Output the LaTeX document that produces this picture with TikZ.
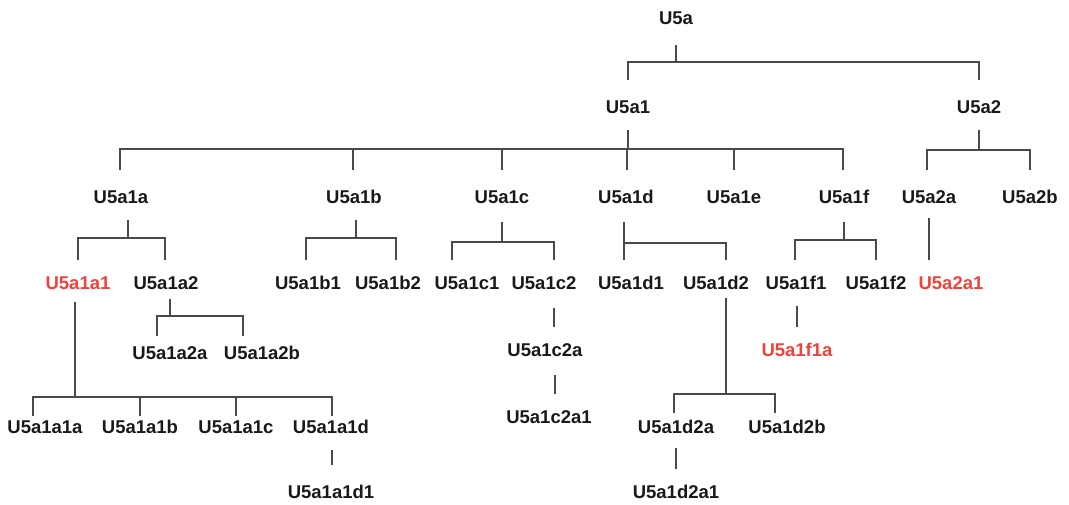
\documentclass[tikz,border=0pt]{standalone}
\usepackage{fontspec}
\setmainfont{Liberation Sans}
\definecolor{linegray}{HTML}{4A4A4A}
\definecolor{hapred}{HTML}{E8453C}
\tikzset{
  lbl/.style={font=\fontsize{18.5}{20}\selectfont\bfseries, text=black!90,
    text height=13pt, text depth=0pt, inner sep=0pt, outer ysep=16.5pt},
  redlbl/.style={lbl, text=hapred},
  link/.style={draw=linegray, line width=1.3pt},
}
\begin{document}
\begin{tikzpicture}[x=1pt,y=-1pt]
   \useasboundingbox (0,0) rectangle (1069,504);

   % ノード
   \node[lbl] (u5a) at (676,18) {U5a};
   \node[lbl] (u5a1) at (628,107) {U5a1};
   \node[lbl] (u5a2) at (979,107) {U5a2};

   \node[lbl] (u5a1a) at (121,197) {U5a1a};
   \node[lbl] (u5a1b) at (354,197) {U5a1b};
   \node[lbl] (u5a1c) at (502,197) {U5a1c};
   \node[lbl] (u5a1d) at (626,197) {U5a1d};
   \node[lbl] (u5a1e) at (734,197) {U5a1e};
   \node[lbl] (u5a1f) at (844,197) {U5a1f};
   \node[lbl] (u5a2a) at (929,197) {U5a2a};
   \node[lbl] (u5a2b) at (1030,197) {U5a2b};

   \node[redlbl] (u5a1a1) at (78,283) {U5a1a1};
   \node[lbl] (u5a1a2) at (166,283) {U5a1a2};
   \node[lbl] (u5a1b1) at (308,283) {U5a1b1};
   \node[lbl] (u5a1b2) at (388,283) {U5a1b2};
   \node[lbl] (u5a1c1) at (467,283) {U5a1c1};
   \node[lbl] (u5a1c2) at (544,283) {U5a1c2};
   \node[lbl] (u5a1d1) at (631,283) {U5a1d1};
   \node[lbl] (u5a1d2) at (716,283) {U5a1d2};
   \node[lbl] (u5a1f1) at (796,283) {U5a1f1};
   \node[lbl] (u5a1f2) at (876,283) {U5a1f2};
   \node[redlbl] (u5a2a1) at (951,283) {U5a2a1};

   \node[lbl] (u5a1a2a) at (170,353) {U5a1a2a};
   \node[lbl] (u5a1a2b) at (262,353) {U5a1a2b};
   \node[lbl] (u5a1c2a) at (545,350) {U5a1c2a};
   \node[redlbl] (u5a1f1a) at (797,350) {U5a1f1a};
   \node[lbl] (u5a1c2a1) at (549,417) {U5a1c2a1};

   \node[lbl] (u5a1a1a) at (45,427) {U5a1a1a};
   \node[lbl] (u5a1a1b) at (140,427) {U5a1a1b};
   \node[lbl] (u5a1a1c) at (236,427) {U5a1a1c};
   \node[lbl] (u5a1a1d) at (331,427) {U5a1a1d};
   \node[lbl] (u5a1d2a) at (676,427) {U5a1d2a};
   \node[lbl] (u5a1d2b) at (787,427) {U5a1d2b};
   \node[lbl] (u5a1a1d1) at (331,492) {U5a1a1d1};
   \node[lbl] (u5a1d2a1) at (676,492) {U5a1d2a1};

   % 分岐点
   \coordinate (j0) at (676,62);
   \coordinate (j1) at (628,149);
   \coordinate (j2) at (979,150);
   \coordinate (j1a) at (128,238);
   \coordinate (j1b) at (356,238);
   \coordinate (j1c) at (502,242);
   \coordinate (j1d) at (624,243);
   \coordinate (j1f) at (844,240);
   \coordinate (j1a1) at (75,397);
   \coordinate (j1a2) at (170,316);
   \coordinate (j1d2) at (726,394);

   % 線
   \draw[link, shorten <=4pt] (u5a.south) -- (j0);
   \draw[link, shorten >=4pt] (j0) -| (u5a1.north);
   \draw[link, shorten >=4pt] (j0) -| (u5a2.north);

   \draw[link] (u5a1.south) -- (j1);
   \draw[link, shorten >=4pt] (j1) -| ([xshift=-1pt]u5a1a.north);
   \draw[link, shorten >=4pt] (j1) -| ([xshift=-1pt]u5a1b.north);
   \draw[link, shorten >=4pt] (j1) -| (u5a1c.north);
   \draw[link, shorten >=4pt] (j1) -| ([xshift=1pt]u5a1d.north);
   \draw[link, shorten >=4pt] (j1) -| (u5a1e.north);
   \draw[link, shorten >=4pt] (j1) -| ([xshift=-1pt]u5a1f.north);

   \draw[link] (u5a2.south) -- (j2);
   \draw[link, shorten >=4pt] (j2) -| ([xshift=-2pt]u5a2a.north);
   \draw[link, shorten >=4pt] (j2) -| (u5a2b.north);

   \draw[link] ([xshift=7pt]u5a1a.south) -- (j1a);
   \draw[link] (j1a) -| (u5a1a1.north);
   \draw[link] (j1a) -| ([xshift=-1pt]u5a1a2.north);

   \draw[link] ([xshift=2pt]u5a1b.south) -- (j1b);
   \draw[link] (j1b) -| ([xshift=-2pt]u5a1b1.north);
   \draw[link] (j1b) -| ([xshift=8pt]u5a1b2.north);

   \draw[link, shorten <=2pt] (u5a1c.south) -- (j1c);
   \draw[link] (j1c) -| ([xshift=-15pt]u5a1c1.north);
   \draw[link] (j1c) -| ([xshift=10pt]u5a1c2.north);

   \draw[link, shorten <=2pt] ([xshift=-2pt]u5a1d.south) -- (j1d);
   \draw[link] (j1d) -| ([xshift=-7pt]u5a1d1.north);
   \draw[link] (j1d) -| ([xshift=10pt]u5a1d2.north);

   \draw[link, shorten <=2pt] (u5a1f.south) -- (j1f);
   \draw[link] (j1f) -| ([xshift=-1pt]u5a1f1.north);
   \draw[link] (j1f) -| (u5a1f2.north);

   \draw[link, shorten <=-2pt] (u5a2a.south) -- ([xshift=-22pt]u5a2a1.north);

   \draw[link, shorten <=-4pt] ([xshift=-3pt]u5a1a1.south) -- (j1a1);
   \draw[link, shorten >=-12pt] (j1a1) -| ([xshift=-12pt]u5a1a1a.north);
   \draw[link, shorten >=-12pt] (j1a1) -| (u5a1a1b.north);
   \draw[link, shorten >=-12pt] (j1a1) -| (u5a1a1c.north);
   \draw[link, shorten >=-12pt] (j1a1) -| ([xshift=1pt]u5a1a1d.north);

   \draw[link, shorten <=-7pt] ([xshift=4pt]u5a1a2.south) -- (j1a2);
   \draw[link, shorten >=-6pt] (j1a2) -| ([xshift=-13pt]u5a1a2a.north);
   \draw[link, shorten >=-6pt] (j1a2) -| ([xshift=-19pt]u5a1a2b.north);

   \draw[link, shorten <=2pt] ([xshift=10pt]u5a1c2.south) -- ([xshift=9pt]u5a1c2a.north);
   \draw[link, shorten <=2pt] ([xshift=10pt]u5a1c2a.south) -- ([xshift=6pt]u5a1c2a1.north);

   \draw[link, shorten <=-8pt] ([xshift=10pt]u5a1d2.south) -- (j1d2);
   \draw[link, shorten >=-9pt] (j1d2) -| ([xshift=-2pt]u5a1d2a.north);
   \draw[link, shorten >=-9pt] (j1d2) -| ([xshift=-12pt]u5a1d2b.north);

   \draw[link] ([xshift=1pt]u5a1f1.south) -- (u5a1f1a.north);
   \draw[link, shorten >=4pt] ([xshift=1pt]u5a1a1d.south) -- ([xshift=1pt]u5a1a1d1.north);
   \draw[link, shorten <=-2pt] (u5a1d2a.south) -- (u5a1d2a1.north);

\end{tikzpicture}
\end{document}
